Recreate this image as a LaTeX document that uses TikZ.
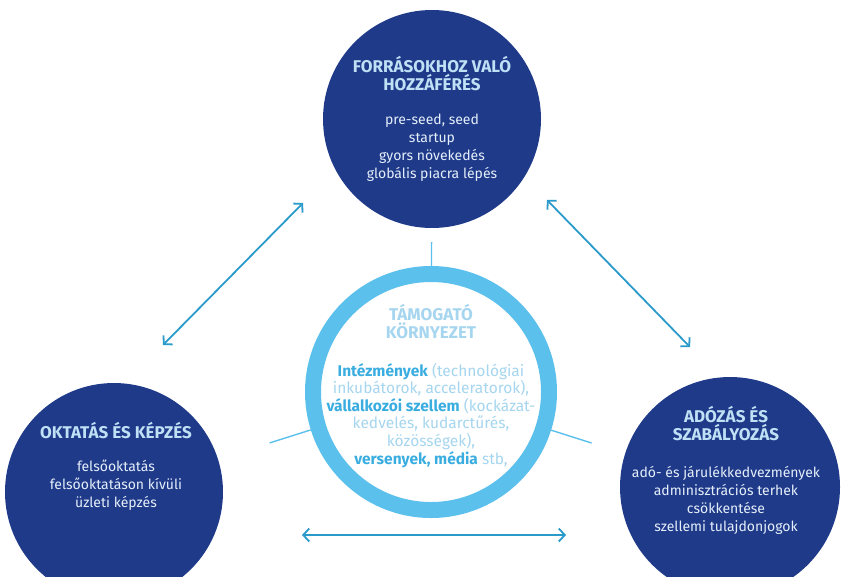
\documentclass[tikz,border=0pt]{standalone}
\usepackage{fontspec}
\setmainfont{Fira Sans}
\usetikzlibrary{arrows.meta}

\definecolor{sotetkek}{HTML}{203A8A}
\definecolor{cimkek}{HTML}{BFE0F5}
\definecolor{szovegkek}{HTML}{E4EFFA}
\definecolor{gyurukek}{HTML}{5CC0EC}
\definecolor{nyilkek}{HTML}{2A9ACB}
\definecolor{halvanykek}{HTML}{A6D6EF}
\definecolor{eroskek}{HTML}{3AADE0}

\newcommand{\cim}[1]{{\fontsize{17}{18}\selectfont\bfseries #1}}
\newcommand{\kiemel}[1]{{\bfseries\color{eroskek}#1}}

\begin{document}
\begin{tikzpicture}
	[
		x=1pt, y=-1pt,
		kor/.style={circle, fill=sotetkek, inner sep=0pt},
		osszekoto/.style={draw=gyurukek, line width=1.4pt},
		nyil/.style={draw=nyilkek, line width=1.8pt,
			{Straight Barb[length=6pt,width=13pt]}-{Straight Barb[length=6pt,width=13pt]}}
	]
	
	\tikzstyle{Szoveg} = [
		align=center, 
		text=szovegkek, 
		font=\fontsize{14}{18}\selectfont
	]
	
	\useasboundingbox (0,0) rectangle (842,576);
	
	% korok
	\node [kor, minimum size=218pt] (forras) at (432,119) {};
	\node [kor, minimum size=218pt] (oktatas) at (114,492) {};
	\node [kor, minimum size=220pt] (adozas) at (730,487) {};
	\node [circle, draw=gyurukek, line width=16pt, fill=white, minimum size=236pt] (kornyezet) at (431,392) {};
	
	% szovegek
	\node [Szoveg] (forras-szoveg) at (forras) {
		\textcolor{cimkek}{\cim{FORRÁSOKHOZ VALÓ}}\\
		\textcolor{cimkek}{\cim{HOZZÁFÉRÉS}}\\[16pt]
		pre-seed, seed\\
		startup\\
		gyors növekedés\\
		globális piacra lépés};
	\node [Szoveg] (oktatas-szoveg) at (116,466) {
		\textcolor{cimkek}{\cim{OKTATÁS ÉS KÉPZÉS}}\\[15pt]
		felsőoktatás\\
		felsőoktatáson kívüli\\
		üzleti képzés};
	\node [Szoveg] (adozas-szoveg) at (726,470.5) {
		\textcolor{cimkek}{\cim{ADÓZÁS ÉS}}\\
		\textcolor{cimkek}{\cim{SZABÁLYOZÁS}}\\[19pt]
		adó- és járulékkedvezmények\\
		adminisztrációs terhek\\
		csökkentése\\
		szellemi tulajdonjogok};
	\node [Szoveg, text=halvanykek, font=\fontsize{15.5}{17.6}\selectfont] (kornyezet-szoveg) at (431,386) {
		\cim{TÁMOGATÓ}\\
		\cim{KÖRNYEZET}\\[20pt]
		\kiemel{Intézmények} (technológiai\\
		inkubátorok, acceleratorok),\\
		\kiemel{vállalkozói szellem} (kockázat-\\
		kedvelés, kudarctűrés,\\
		közösségek),\\
		\kiemel{versenyek, média} stb,};
	
	% osszekotok
	\draw [osszekoto, shorten <=14pt] (forras) -- (kornyezet);
	\draw [osszekoto, shorten >=54pt] (kornyezet) -- (oktatas);
	\draw [osszekoto, shorten >=35pt] (kornyezet) -- (adozas);
	
	% nyilak
	\coordinate (bal-also) at (163,345);
	\coordinate (bal-felso) at (303,203);
	\coordinate (jobb-felso) at (547,200);
	\coordinate (jobb-also) at (690,347);
	\coordinate (lent-bal) at (302,535);
	\coordinate (lent-jobb) at (566,535);
	\draw [nyil] (bal-also) -- (bal-felso);
	\draw [nyil] (jobb-felso) -- (jobb-also);
	\draw [nyil] (lent-bal) -- (lent-jobb);
\end{tikzpicture}
\end{document}
